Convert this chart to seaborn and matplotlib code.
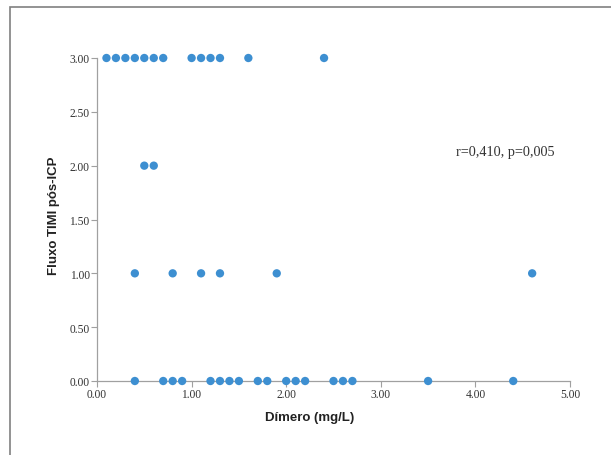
import numpy as np
import pandas as pd
import matplotlib.pyplot as plt
import seaborn as sns
from matplotlib.patches import Rectangle

# valores
dimero_3 = [0.1, 0.2, 0.3, 0.4, 0.5, 0.6, 0.7, 1.0, 1.1, 1.2, 1.3, 1.6, 2.4]
dimero_2 = [0.5, 0.6]
dimero_1 = [0.4, 0.8, 1.1, 1.3, 1.9, 4.6]
dimero_0 = [0.4, 0.7, 0.8, 0.9, 1.2, 1.3, 1.4, 1.5, 1.7, 1.8,
            2.0, 2.1, 2.2, 2.5, 2.6, 2.7, 3.5, 4.4]
x_ticks = [0, 1, 2, 3, 4, 5]
y_ticks = [0, 0.5, 1, 1.5, 2, 2.5, 3]

df = pd.DataFrame({
    'Dimero': dimero_3 + dimero_2 + dimero_1 + dimero_0,
    'TIMI': [3] * len(dimero_3) + [2] * len(dimero_2) + [1] * len(dimero_1) + [0] * len(dimero_0),
})

sns.set_style("white")
cor_eixo = '#a0a0a0'

fig = plt.figure(figsize=(6.11, 4.56), dpi=100)
# moldura cinza em volta da figura
fig.patches.append(Rectangle((10 / 611, -0.05), 1.1, 1 - 8 / 456 + 0.05,
                             transform=fig.transFigure, fill=False,
                             edgecolor='#808080', linewidth=1.2))
ax = fig.add_axes([97 / 611, 1 - 382 / 456, (570 - 97) / 611, (382 - 59) / 456])

sns.scatterplot(x='Dimero', y='TIMI', data=df, ax=ax, color='#3d8fd1',
                s=36, edgecolor='none', clip_on=False, zorder=3)

ax.set_xlim(0, 5)
ax.set_ylim(0, 3)
ax.set_xticks(x_ticks)
ax.set_yticks(y_ticks)
ax.set_xticklabels([f'{v:.2f}' for v in x_ticks], family='Liberation Serif', fontsize=8.3, color='#333333')
ax.set_yticklabels([f'{v:.2f}' for v in y_ticks], family='Liberation Serif', fontsize=8.3, color='#333333')
ax.tick_params(axis='both', length=4, width=0.8, color=cor_eixo, pad=1.2, direction='out',
               bottom=True, left=True)
for lado in ['top', 'right']:
    ax.spines[lado].set_visible(False)
for lado in ['left', 'bottom']:
    ax.spines[lado].set_color(cor_eixo)
    ax.spines[lado].set_linewidth(0.9)

ax.set_xlabel('Dímero (mg/L)', family=['Liberation Sans Narrow', 'Liberation Sans'],
              fontweight='bold', fontsize=9.5, color='#222222')
ax.set_ylabel('Fluxo TIMI pós-ICP', family=['Liberation Sans Narrow', 'Liberation Sans'],
              fontweight='bold', fontsize=9.5, color='#222222')
ax.xaxis.set_label_coords(0.45, -0.112)
ax.yaxis.set_label_coords(-0.09, 0.514)
ax.xaxis.label.set_va('center')
ax.yaxis.label.set_va('center')

ax.text(3.79, 2.13, 'r=0,410, p=0,005', family='Liberation Serif', fontsize=10.3,
        color='#333333', va='center', ha='left')

plt.savefig('out.png', dpi=100)
